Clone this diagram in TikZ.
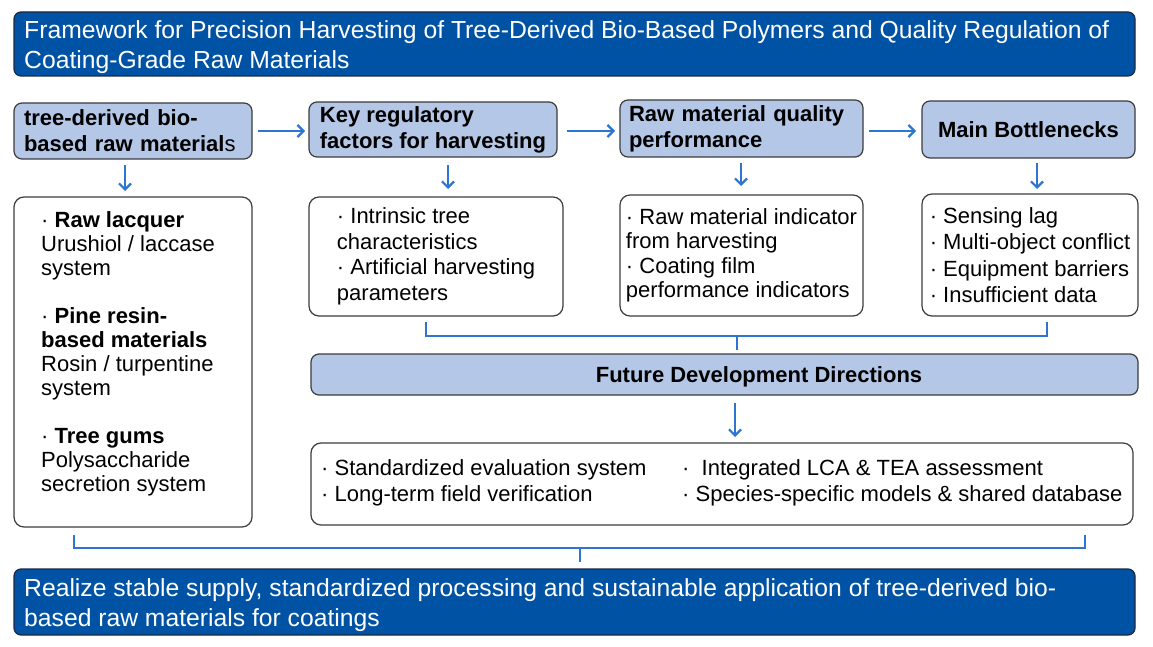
\documentclass[tikz,border=0pt]{standalone}
\usepackage{fontspec}
\setmainfont{Liberation Sans}
\usetikzlibrary{arrows.meta,calc}
\definecolor{darkblue}{RGB}{0,82,164}
\definecolor{navy}{RGB}{25,40,70}
\definecolor{lightblue}{RGB}{180,199,231}
\definecolor{arrowblue}{RGB}{46,117,210}
\definecolor{bordergray}{RGB}{60,60,60}
\begin{document}
\begin{tikzpicture}[x=1pt,y=-1pt,
  darkbox/.style={draw=navy, fill=darkblue, rounded corners=7pt, line width=1.2pt},
  darktext/.style={text=white, font=\fontsize{24.7}{30}\selectfont, align=left, inner sep=0pt, anchor=west},
  hdrbox/.style={draw=bordergray, fill=lightblue, rounded corners=8pt, line width=1.2pt,
    font=\bfseries\fontsize{22}{26}\selectfont, align=left, inner sep=0pt},
  cntbox/.style={draw=bordergray, fill=white, rounded corners=10pt, line width=1.2pt,
    font=\fontsize{22}{25.5}\selectfont, align=left, inner sep=0pt},
  plain/.style={inner sep=0pt, align=left, font=\fontsize{22}{24}\selectfont},
  arr/.style={draw=arrowblue, line width=2.2pt, -{Straight Barb[length=6pt,width=12pt]}},
  brk/.style={draw=arrowblue, line width=2pt}]
\useasboundingbox (0,0) rectangle (1153,647);

% title
\node[darkbox, minimum width=1121pt, minimum height=64pt] (title) at (574.5,44) {};
\node[darktext] (titlet) at (24,47.5)
  {Framework for Precision Harvesting of Tree-Derived Bio-Based Polymers and Quality Regulation of\\Coating-Grade Raw Materials};

% headers
\node[hdrbox, text width=218pt, inner xsep=10pt, minimum height=56pt] (h1) at (133,131)
  {tree-derived bio-\\based raw material{\mdseries s}};
\node[hdrbox, minimum width=248pt, minimum height=55pt] (h2) at (433,129.5)
  {Key regulatory\\factors for harvesting};
\node[hdrbox, text width=225pt, inner xsep=9pt, minimum height=57pt] (h3) at (741.5,128.5)
  {Raw material quality\\performance};
\node[hdrbox, minimum width=213pt, minimum height=57pt] (h4) at (1028.5,129.5)
  {Main Bottlenecks};

% content boxes
\node[cntbox, minimum width=238pt, minimum height=330pt] (c1) at (133,362) {};
\node[plain, anchor=north west] (c1t) at (41,211)
  {· \textbf{Raw lacquer}\\Urushiol / laccase\\system\\[24pt]
   · \textbf{Pine resin-}\\\textbf{based materials}\\Rosin / turpentine\\system\\[24pt]
   · \textbf{Tree gums}\\Polysaccharide\\secretion system};
\node[cntbox, minimum width=254pt, minimum height=119pt] (c2) at (436,256.5)
  {· Intrinsic tree\\characteristics\\· Artificial harvesting\\parameters};
\node[cntbox, minimum width=243pt, minimum height=121pt, font=\fontsize{22}{24.5}\selectfont] (c3) at (741.5,255.5)
  {· Raw material indicator\\from harvesting\\· Coating film\\performance indicators};
\node[cntbox, minimum width=216pt, minimum height=122pt, font=\fontsize{22}{26.5}\selectfont] (c4) at (1030,255)
  {· Sensing lag\\· Multi-object conflict\\· Equipment barriers\\· Insufficient data};

% future directions
\node[hdrbox, minimum width=827pt, minimum height=41pt] (future) at (724.5,374.5) {};
\node[inner sep=0pt, font=\bfseries\fontsize{22}{26}\selectfont] (futuret) at (759,376.5) {Future Development Directions};
\node[cntbox, minimum width=822pt, minimum height=82pt] (fc) at (722,484) {};
\node[plain, anchor=west, font=\fontsize{22}{26}\selectfont] (fcl) at (321,483)
  {· Standardized evaluation system\\· Long-term field verification};
\node[plain, anchor=west, font=\fontsize{22}{26}\selectfont] (fcr) at (682,483)
  {·\ \ Integrated LCA \& TEA assessment\\· Species-specific models \& shared database};

% bottom
\node[darkbox, minimum width=1121pt, minimum height=66pt] (goal) at (574.5,602) {};
\node[darktext] (goalt) at (24,605.5)
  {Realize stable supply, standardized processing and sustainable application of tree-derived bio-\\based raw materials for coatings};

% horizontal arrows
\coordinate (a1s) at (258,131);  \coordinate (a1e) at (305,131);
\coordinate (a2s) at (567,131);  \coordinate (a2e) at (615,131);
\coordinate (a3s) at (869,131);  \coordinate (a3e) at (916,131);
\draw[arr] (a1s) -- (a1e);
\draw[arr] (a2s) -- (a2e);
\draw[arr] (a3s) -- (a3e);

% vertical arrows
\coordinate (v1s) at (125,165);  \coordinate (v1e) at (125,191);
\coordinate (v2s) at (448,165);  \coordinate (v2e) at (448,189);
\coordinate (v3s) at (741,163);  \coordinate (v3e) at (741,186);
\coordinate (v4s) at (1037,163); \coordinate (v4e) at (1037,189);
\coordinate (v5s) at (735,403);  \coordinate (v5e) at (735,437);
\draw[arr] (v1s) -- (v1e);
\draw[arr] (v2s) -- (v2e);
\draw[arr] (v3s) -- (v3e);
\draw[arr] (v4s) -- (v4e);
\draw[arr] (v5s) -- (v5e);

% bracket 1
\coordinate (b1l) at (426,322);
\coordinate (b1r) at (1047,322);
\coordinate (b1m) at (737,350);
\draw[brk] (b1l) -- (426,336) -- (1047,336) -- (b1r);
\draw[brk] (737,336) -- (b1m);

% bracket 2
\coordinate (b2l) at (74,535);
\coordinate (b2r) at (1085,535);
\coordinate (b2m) at (580,562);
\draw[brk] (b2l) -- (74,548) -- (1085,548) -- (b2r);
\draw[brk] (580,548) -- (b2m);
\end{tikzpicture}
\end{document}
